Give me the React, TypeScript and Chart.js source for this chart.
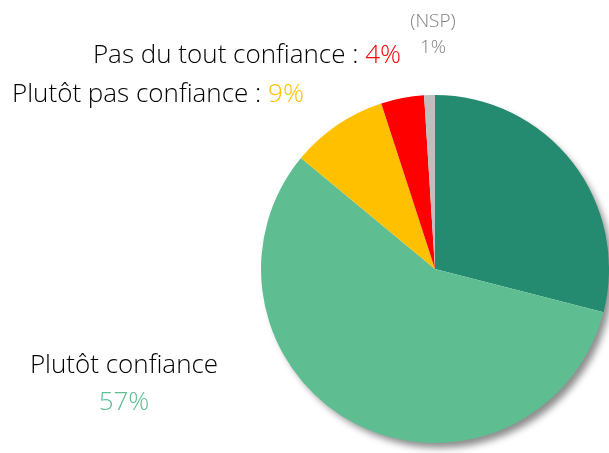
import React, { useEffect, useRef } from "react";
import { Chart, registerables } from "chart.js";

Chart.register(...registerables);

const categories = [
  "Tout à fait confiance",
  "Plutôt confiance",
  "Plutôt pas confiance",
  "Pas du tout confiance",
  "NSP",
];
const values = [29, 57, 9, 4, 1];
const sliceColors = ["#248A70", "#5FBD92", "#FFC000", "#FF0000", "#BFBFBF"];
const textColors = ["#248A70", "#5FBD92", "#FFC000", "#FF0000", "#7F7F7F"];

const FONT = '"Open Sans", "Noto Sans", sans-serif';

const shadowPlugin = {
  id: "pieShadow",
  beforeDatasetsDraw(chart: any) {
    const meta = chart.getDatasetMeta(0);
    const arc = meta.data[0];
    if (!arc) return;
    const { x, y, outerRadius } = arc.getProps(["x", "y", "outerRadius"], true);
    const ctx = chart.ctx;
    ctx.save();
    ctx.shadowColor = "rgba(0,0,0,0.45)";
    ctx.shadowBlur = 7;
    ctx.shadowOffsetX = 5;
    ctx.shadowOffsetY = 6;
    ctx.fillStyle = "#ffffff";
    ctx.beginPath();
    ctx.arc(x, y, outerRadius - 1, 0, Math.PI * 2);
    ctx.fill();
    ctx.restore();
  },
};

function drawPair(ctx: any, x: number, y: number, a: string, b: string, colB: string, align: string) {
  const wa = ctx.measureText(a).width;
  const wb = ctx.measureText(b).width;
  let sx = x;
  if (align === "right") sx = x - wa - wb;
  if (align === "center") sx = x - (wa + wb) / 2;
  ctx.textAlign = "left";
  ctx.fillStyle = "#000000";
  ctx.fillText(a, sx, y);
  ctx.fillStyle = colB;
  ctx.fillText(b, sx + wa, y);
}

const labelPlugin = {
  id: "pieLabels",
  afterDraw(chart: any) {
    const ctx = chart.ctx;
    ctx.save();
    ctx.textBaseline = "alphabetic";
    ctx.font = `300 26px ${FONT}`;
    // Pas du tout confiance
    drawPair(ctx, 401, 63, `${categories[3]} : `, `${values[3]}%`, textColors[3], "right");
    // Plutôt pas confiance
    drawPair(ctx, 12, 102, `${categories[2]} : `, `${values[2]}%`, textColors[2], "left");
    // Plutôt confiance
    ctx.textAlign = "center";
    ctx.fillStyle = "#000000";
    ctx.fillText(categories[1], 124, 373);
    ctx.fillStyle = textColors[1];
    ctx.fillText(`${values[1]}%`, 124, 410);
    // NSP
    ctx.font = `300 19px ${FONT}`;
    ctx.fillStyle = textColors[4];
    ctx.fillText(`(${categories[4]})`, 433, 27);
    ctx.fillText(`${values[4]}%`, 433, 53);
    ctx.restore();
  },
};

export default function App() {
  const ref = useRef<HTMLCanvasElement>(null);
  useEffect(() => {
    if (!ref.current) return;
    const chart = new Chart(ref.current, {
      type: "pie",
      data: {
        labels: categories,
        datasets: [
          {
            data: values,
            backgroundColor: sliceColors,
            borderWidth: 0,
          },
        ],
      },
      options: {
        animation: false,
        responsive: false,
        layout: { padding: { left: 261, right: 0, top: 95, bottom: 10 } },
        plugins: {
          legend: { display: false },
          tooltip: { enabled: false },
        },
      },
      plugins: [shadowPlugin, labelPlugin],
    });
    return () => chart.destroy();
  }, []);
  return (
    <div style={{ position: "fixed", left: 0, top: 0, width: 609, height: 453, background: "#fff" }}>
      <canvas ref={ref} width={609} height={453} style={{ width: 609, height: 453 }} />
    </div>
  );
}
